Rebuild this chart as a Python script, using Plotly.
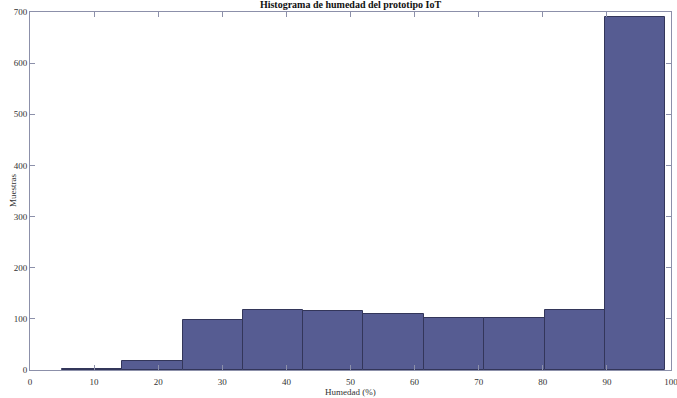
import plotly.graph_objects as go

bin_edges = [5.0, 14.4, 23.8, 33.2, 42.6, 52.0, 61.5, 70.9, 80.3, 89.7, 99.1]
counts = [1, 18, 98, 118, 116, 110, 101, 102, 117, 690]
x_ticks = [0, 10, 20, 30, 40, 50, 60, 70, 80, 90, 100]
y_ticks = [0, 100, 200, 300, 400, 500, 600, 700]

centers = [(a + b) / 2 for a, b in zip(bin_edges[:-1], bin_edges[1:])]
widths = [b - a for a, b in zip(bin_edges[:-1], bin_edges[1:])]

fig = go.Figure(go.Bar(
    x=centers, y=counts, width=widths,
    marker=dict(color="#565c92", line=dict(color="#33365a", width=1)),
    cliponaxis=False,
))

font_serif = dict(family="Liberation Serif", size=9, color="#333333")

axis_common = dict(
    showgrid=False, zeroline=False, showline=True, linecolor="#8c90aa", linewidth=1,
    mirror="ticks", ticks="inside", ticklen=5, tickcolor="#8c90aa",
    tickfont=font_serif, automargin=False, ticklabeloverflow="allow",
)

fig.update_layout(
    width=677, height=398,
    margin=dict(l=30, r=6, t=12, b=28, autoexpand=False),
    paper_bgcolor="white", plot_bgcolor="white",
    title=dict(text="<b>Histograma de humedad del prototipo IoT</b>", x=0.5, xanchor="center",
               xref="paper", y=0.998, yanchor="top",
               font=dict(family="Liberation Serif", size=10, color="#111111")),
    showlegend=False,
    bargap=0,
    xaxis=dict(range=[0, 100], tickvals=x_ticks, ticklabelstandoff=3, **axis_common),
    yaxis=dict(range=[0, 700], tickvals=y_ticks, **axis_common),
    annotations=[
        dict(text="Humedad (%)", x=0.5, xref="paper", y=0, yref="paper", yanchor="top",
             showarrow=False, font=font_serif, yshift=-15),
        dict(text="Muestras", x=0, xref="paper", xshift=-24, y=0.5, yref="paper",
             textangle=-90, showarrow=False, font=font_serif),
    ],
)

fig.write_html("out.html", config={"displayModeBar": False},
               post_script="document.body.style.margin='0';document.body.style.overflow='hidden';")
